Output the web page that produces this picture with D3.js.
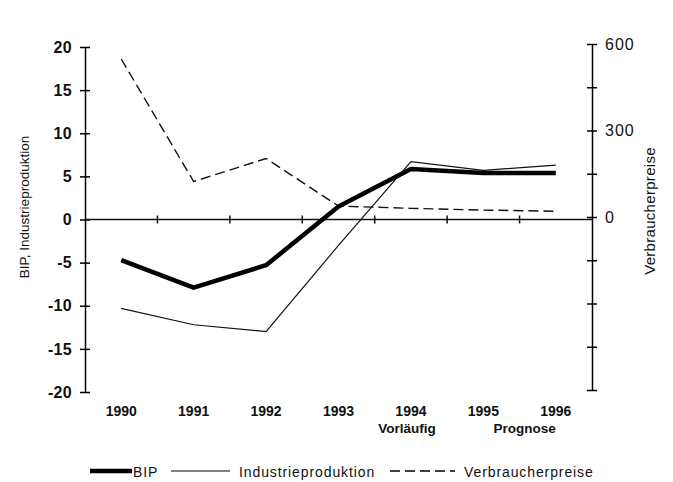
<!DOCTYPE html>
<html>
<head>
<meta charset="utf-8">
<script src="https://cdn.jsdelivr.net/npm/d3@7"></script>
<style>
  body { margin: 0; background: #fff; }
  text { font-family: "Liberation Sans", Arial, sans-serif; fill: #111; }
</style>
</head>
<body>
<div id="chart"></div>
<script>
var svgWidth = 673;
var svgHeight = 482;

// data
var years = ["1990", "1991", "1992", "1993", "1994", "1995", "1996"];
var bip = [-4.7, -7.9, -5.3, 1.5, 5.85, 5.4, 5.4];
var industrie = [-10.3, -12.2, -13.0, -3.0, 6.7, 5.7, 6.3];
var preise = [548, 123, 203, 38, 30, 24, 20];
var leftTicks = [-20, -15, -10, -5, 0, 5, 10, 15, 20];
var rightTicks = [-600, -450, -300, -150, 0, 150, 300, 450, 600];
var rightLabels = [0, 300, 600];

var svg = d3.select("#chart")
  .append("svg")
  .attr("width", svgWidth)
  .attr("height", svgHeight);

var x = d3.scaleBand()
  .domain(years)
  .range([85, 592]);

var y = d3.scaleLinear()
  .domain([-20, 20])
  .range([392, 47]);

var yRight = d3.scaleLinear()
  .domain([-600, 600])
  .range([390, 44]);

var cx = d => x(d) + x.bandwidth() / 2;

// left axis (hyphen minus like the original)
var leftAxis = svg.append("g")
  .attr("transform", "translate(85,0)")
  .call(d3.axisLeft(y).tickValues(leftTicks).tickSizeOuter(0).tickSizeInner(5).tickPadding(8)
    .tickFormat(d => String(d)));
leftAxis.selectAll(".tick line").attr("x1", 5).attr("stroke-width", 1.5);
leftAxis.select(".domain").attr("stroke-width", 1.5);
leftAxis.selectAll(".tick text")
  .style("font-size", "16px")
  .style("font-weight", "bold")
  .attr("letter-spacing", "0.3px");

// right axis
var rightAxis = svg.append("g")
  .attr("transform", "translate(592,0)")
  .call(d3.axisRight(yRight).tickValues(rightTicks).tickSizeOuter(0).tickSizeInner(5).tickPadding(8)
    .tickFormat(d => rightLabels.includes(d) ? String(d) : ""));
rightAxis.selectAll(".tick line").attr("x1", -5).attr("stroke-width", 1.5);
rightAxis.select(".domain").attr("stroke-width", 1.5);
rightAxis.selectAll(".tick text")
  .style("font-size", "16px")
  .attr("letter-spacing", "1px");

// zero line with category separators
svg.append("line")
  .attr("x1", 85).attr("x2", 592)
  .attr("y1", y(0)).attr("y2", y(0))
  .attr("stroke", "#111").attr("stroke-width", 1.5);

svg.selectAll(".sep")
  .data(years.slice(1))
  .enter()
  .append("line")
  .attr("class", "sep")
  .attr("x1", d => x(d)).attr("x2", d => x(d))
  .attr("y1", y(0) - 4).attr("y2", y(0) + 4)
  .attr("stroke", "#111").attr("stroke-width", 1.5);

// year labels below the plot
var bottomAxis = svg.append("g")
  .attr("transform", "translate(0,404)")
  .call(d3.axisBottom(x).tickSize(0).tickPadding(2));
bottomAxis.select(".domain").remove();
bottomAxis.selectAll(".tick text")
  .style("font-size", "14px")
  .style("font-weight", "bold");

svg.append("text")
  .attr("x", cx("1994") - 4)
  .attr("y", 433)
  .attr("text-anchor", "middle")
  .style("font-size", "13.5px")
  .style("font-weight", "bold")
  .text("Vorläufig");

svg.append("text")
  .attr("x", (cx("1995") + cx("1996")) / 2 + 5)
  .attr("y", 433)
  .attr("text-anchor", "middle")
  .style("font-size", "13.5px")
  .style("font-weight", "bold")
  .text("Prognose");

// lines
var lineLeft = d3.line()
  .x((d, i) => cx(years[i]))
  .y(d => y(d));

var lineRight = d3.line()
  .x((d, i) => cx(years[i]))
  .y(d => yRight(d));

svg.append("path")
  .datum(preise)
  .attr("d", lineRight)
  .attr("fill", "none")
  .attr("stroke", "#111")
  .attr("stroke-width", 1.4)
  .attr("stroke-dasharray", "10,5");

svg.append("path")
  .datum(industrie)
  .attr("d", lineLeft)
  .attr("fill", "none")
  .attr("stroke", "#111")
  .attr("stroke-width", 1.2);

svg.append("path")
  .datum(bip)
  .attr("d", lineLeft)
  .attr("fill", "none")
  .attr("stroke", "#000")
  .attr("stroke-width", 4.5)
  .attr("stroke-linejoin", "round");

// axis titles
svg.append("text")
  .attr("transform", "translate(29,207) rotate(-90)")
  .attr("text-anchor", "middle")
  .style("font-size", "13.5px")
  .text("BIP, Industrieproduktion");

svg.append("text")
  .attr("transform", "translate(655,211) rotate(-90)")
  .attr("text-anchor", "middle")
  .style("font-size", "15px")
  .attr("letter-spacing", "0.3px")
  .text("Verbraucherpreise");

// legend
var legend = [
  { name: "BIP", x1: 90, x2: 132, w: 4.5, dash: null },
  { name: "Industrieproduktion", x1: 171, x2: 230, w: 1.2, dash: null },
  { name: "Verbraucherpreise", x1: 390, x2: 455, w: 1.4, dash: "10,5" }
];

var lg = svg.selectAll(".legend")
  .data(legend)
  .enter()
  .append("g")
  .attr("class", "legend");

lg.append("line")
  .attr("x1", d => d.x1).attr("x2", d => d.x2)
  .attr("y1", 471).attr("y2", 471)
  .attr("stroke", "#000")
  .attr("stroke-width", d => d.w)
  .attr("stroke-dasharray", d => d.dash);

lg.append("text")
  .attr("x", d => d.x2 + (d.name === "BIP" ? 1 : 9))
  .attr("y", 477)
  .style("font-size", "14px")
  .attr("letter-spacing", "0.9px")
  .text(d => d.name);
</script>
</body>
</html>
